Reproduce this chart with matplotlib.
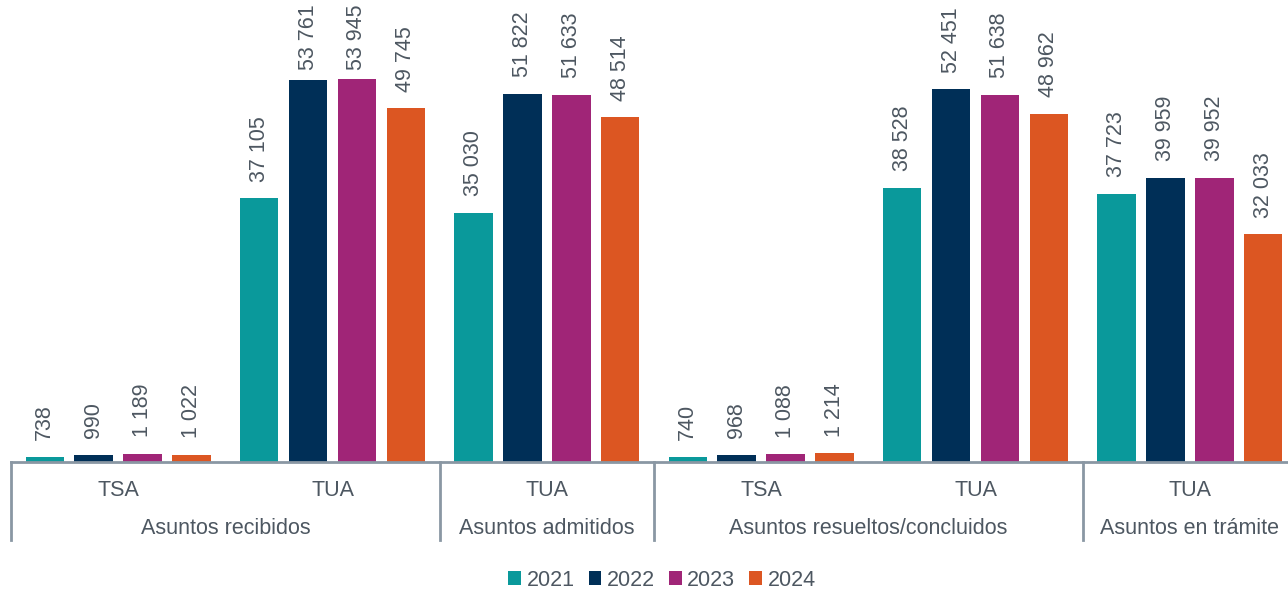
import matplotlib
matplotlib.use("Agg")
import matplotlib.pyplot as plt
import numpy as np

# ── Data ───────────────────────────────────────────────────────────────────────
years      = ["2021", "2022", "2023", "2024"]
sub_labels = ["TSA", "TUA", "TUA", "TSA", "TUA", "TUA"]
categories = ["Asuntos recibidos", "Asuntos admitidos",
              "Asuntos resueltos/concluidos", "Asuntos en trámite"]
cat_spans  = [(0, 1), (2, 2), (3, 4), (5, 5)]   # sub-group index ranges per category

v2021 = [738, 37105, 35030, 740, 38528, 37723]
v2022 = [990, 53761, 51822, 968, 52451, 39959]
v2023 = [1189, 53945, 51633, 1088, 51638, 39952]
v2024 = [1022, 49745, 48514, 1214, 48962, 32033]
series = [v2021, v2022, v2023, v2024]

COLORS    = ["#0a999b", "#002f57", "#a02577", "#dc5622"]
TEXT_COL  = "#4d5761"
LINE_COL  = "#8a97a3"
FONT      = "Liberation Sans"
FS        = 15.5

plt.rcParams["font.family"] = [FONT, "DejaVu Sans"]


def fmt(v):
    return f"{v:,}".replace(",", " ")


# ── Figure ─────────────────────────────────────────────────────────────────────
W, H, DPI = 1288, 589, 100
fig = plt.figure(figsize=(W / DPI, H / DPI), dpi=DPI)

left_px, right_px = 11, 1297
axis_y_px, top_px = 462, 0
ax = fig.add_axes([left_px / W, (H - axis_y_px) / H,
                   (right_px - left_px) / W, (axis_y_px - top_px) / H])
ax.set_xlim(-0.5, 5.5)
ax.set_ylim(0, 65000)

x = np.arange(len(sub_labels))
step, width = 0.228, 0.18
offsets = (np.arange(4) - 1.5) * step

labels = []
for vals, col, off, yr in zip(series, COLORS, offsets, years):
    bars = ax.bar(x + off, vals, width, color=col, label=yr, zorder=2)
    for b, v in zip(bars, vals):
        t = ax.annotate(fmt(v), (b.get_x() + b.get_width() / 2, b.get_height()),
                        xytext=(0, 12), textcoords="offset points",
                        rotation=90, ha="center", va="bottom",
                        fontsize=FS, color=TEXT_COL)
        labels.append(t)

for s in ["top", "right", "left"]:
    ax.spines[s].set_visible(False)
ax.spines["bottom"].set_color(LINE_COL)
ax.spines["bottom"].set_linewidth(2)
ax.set_yticks([])
ax.set_xticks([])

# ── Two-level x labels ─────────────────────────────────────────────────────────
trans = ax.get_xaxis_transform()
px = 1.0 / (axis_y_px - top_px)   # one pixel in axes-fraction units
for xi, lab in zip(x, sub_labels):
    ax.text(xi, -28 * px, lab, transform=trans, ha="center", va="center",
            fontsize=FS, color=TEXT_COL, clip_on=False)

for (a, b), cat in zip(cat_spans, categories):
    ax.text((a + b) / 2, -66 * px, cat, transform=trans, ha="center",
            va="center", fontsize=FS, color=TEXT_COL, clip_on=False)

for sep in [-0.5, 1.5, 2.5, 4.5, 5.5]:
    ax.plot([sep, sep], [0, -78 * px], transform=trans, color=LINE_COL,
            lw=2, clip_on=False)

# ── Legend ─────────────────────────────────────────────────────────────────────
fig.legend(loc="center", bbox_to_anchor=(662 / W, (H - 580) / H), ncol=4,
           frameon=False, fontsize=FS, handlelength=0.6, handleheight=0.6,
           handletextpad=0.25, columnspacing=0.65, labelcolor=TEXT_COL)

# push labels that would run off the top back inside the figure
fig.canvas.draw()
r = fig.canvas.get_renderer()
for t in labels:
    bb = t.get_window_extent(r)
    over = bb.y1 - (H - 4)
    if over > 0:
        ox, oy = t.xyann
        t.xyann = (ox, oy - over * 72 / DPI)

fig.savefig("out.png", dpi=DPI)
